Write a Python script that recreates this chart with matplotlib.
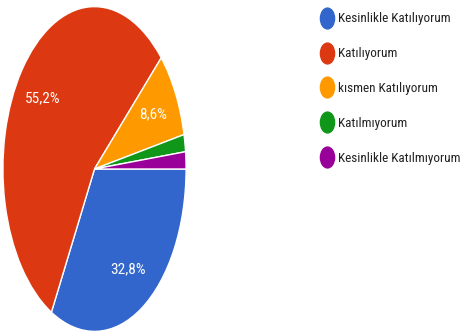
import matplotlib
matplotlib.use("Agg")
import matplotlib.pyplot as plt
from matplotlib.path import Path
from matplotlib.transforms import Affine2D
from matplotlib.lines import Line2D

# Verileri
categories = ["Kesinlikle Katılıyorum", "Katılıyorum", "kısmen Katılıyorum",
              "Katılmıyorum", "Kesinlikle Katılmıyorum"]
values = [32.8, 55.2, 8.6, 1.7, 1.7]
colors = ["#3366cc", "#dc3912", "#ff9900", "#109618", "#990099"]

plt.rcParams['font.family'] = ['Roboto Condensed', 'Roboto', 'DejaVu Sans']

fig = plt.figure(figsize=(4.64, 3.33), dpi=100)
# axes stretched vertically so the pie becomes an ellipse like the screenshot
ax = fig.add_axes([2 / 464, 0 / 333, 185 / 464, 328 / 333])


def fmt(p):
    return ("%.1f%%" % p).replace(".", ",") if p > 5 else ""


wedges, texts, autotexts = ax.pie(
    values, colors=colors, startangle=0, counterclock=False,
    autopct=fmt, pctdistance=0.72,
    wedgeprops=dict(edgecolor="white", linewidth=1),
    textprops=dict(color="white", fontsize=11))
ax.set_aspect('auto')
ax.set_xlim(-1.01, 1.01)
ax.set_ylim(-1.01, 1.01)

# oval marker for the legend (a bit taller than wide)
oval = Path.unit_circle().transformed(Affine2D().scale(0.68, 1.0))
handles = [Line2D([], [], linestyle='none', marker=oval, markersize=15,
                  markerfacecolor=c, markeredgecolor=c) for c in colors]
leg = fig.legend(handles, categories, loc='upper left',
                 bbox_to_anchor=(316 / 464, 1 - 7 / 333), frameon=False,
                 fontsize=9.5, labelspacing=1.66, handlelength=0.85,
                 handletextpad=0.4, borderaxespad=0)
for t in leg.get_texts():
    t.set_color("#222222")

fig.savefig("out.png", dpi=100)
